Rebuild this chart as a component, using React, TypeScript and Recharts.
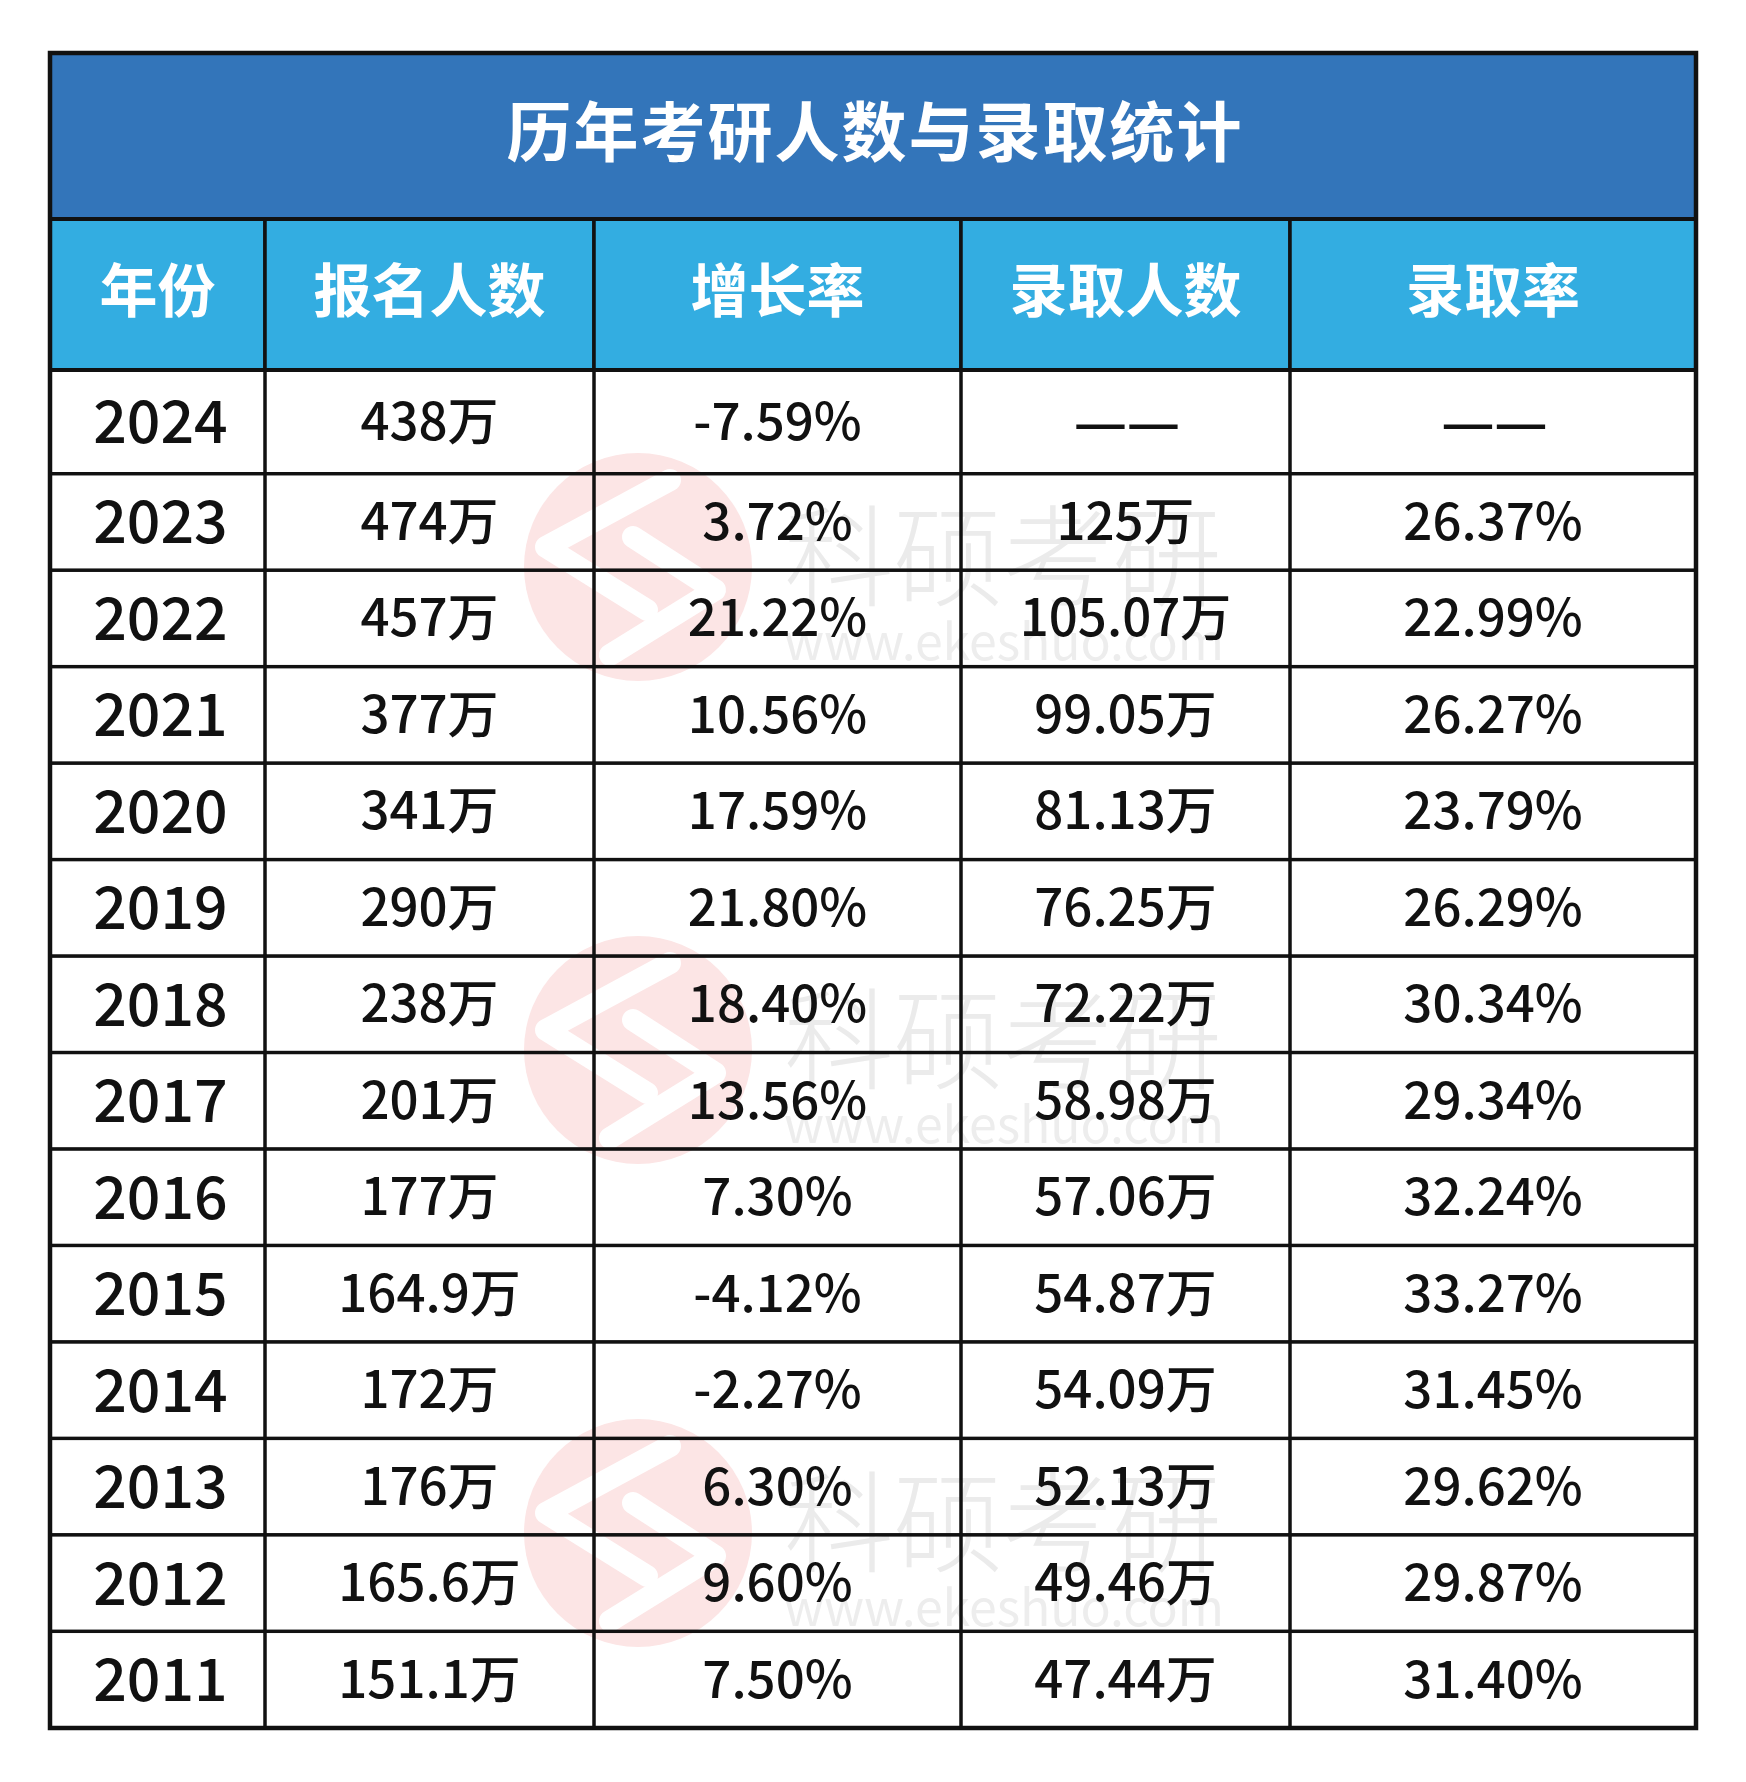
import React from 'react'
import { BarChart, Bar, XAxis, YAxis, LabelList, Customized } from 'recharts'

// table content
const title = '历年考研人数与录取统计'
const headers = ['年份', '报名人数', '增长率', '录取人数', '录取率']
const years = ['2024', '2023', '2022', '2021', '2020', '2019', '2018', '2017', '2016', '2015', '2014', '2013', '2012', '2011']
const applicants = [438, 474, 457, 377, 341, 290, 238, 201, 177, 164.9, 172, 176, 165.6, 151.1] // 万
const growth = [-7.59, 3.72, 21.22, 10.56, 17.59, 21.8, 18.4, 13.56, 7.3, -4.12, -2.27, 6.3, 9.6, 7.5] // %
const admitted = [null, 125, 105.07, 99.05, 81.13, 76.25, 72.22, 58.98, 57.06, 54.87, 54.09, 52.13, 49.46, 47.44] // 万
const admitRate = [null, 26.37, 22.99, 26.27, 23.79, 26.29, 30.34, 29.34, 32.24, 33.27, 31.45, 29.62, 29.87, 31.4] // %

// layout
const W = 1746
const H = 1782
const LEFT = 50
const TOP = 53
const TITLE_H = 166
const HEAD_H = 151
const FIRST_EXTRA = 7.5 // first body row is a little taller than the rest
const BOTTOM = 1728
const colWidths = [215, 329, 367, 329, 406]
const TOTAL = colWidths.reduce((a, b) => a + b, 0)
const FONT = '"Noto Sans CJK SC", "Noto Sans", sans-serif'
const DASH = '——'

const wan = (v: number | null) => (v == null ? DASH : `${v}万`)
const pct = (v: number | null) => (v == null ? DASH : `${v.toFixed(2)}%`)

const rows = years.map((y, i) => {
  const texts = [y, wan(applicants[i]), pct(growth[i]), wan(admitted[i]), pct(admitRate[i])]
  const row: Record<string, string | number> = { year: y }
  colWidths.forEach((w, c) => {
    row['c' + c] = w
    row['t' + c] = texts[c]
  })
  return row
})

const cellShape = (props: any) => {
  const { x, y, width, height, index } = props
  const extra = index === 0 ? FIRST_EXTRA : 0
  return <rect x={x} y={y - extra} width={width} height={height + extra} fill="transparent" stroke="#111" strokeWidth={3} />
}

const cellText = (fontSize: number, dx: number) => (props: any) => {
  const { x, y, width, height, value, index } = props
  const extra = index === 0 ? FIRST_EXTRA : 0
  const cx = Number(x) + Number(width) / 2 + dx
  const cy = Number(y) + Number(height) / 2 - extra / 2 - 4
  const common = {
    textAnchor: 'middle' as const,
    dominantBaseline: 'central' as const,
    fontFamily: FONT,
    fontWeight: 500,
    fill: '#111',
  }
  if (value === DASH) {
    // two separate dashes, as in the source
    return (
      <g>
        <text {...common} x={cx - 25} y={cy} fontSize={60}>—</text>
        <text {...common} x={cx + 28} y={cy} fontSize={60}>—</text>
      </g>
    )
  }
  return (
    <text {...common} x={cx} y={cy} fontSize={fontSize}>
      {value}
    </text>
  )
}

const Watermark = ({ dy }: { dy: number }) => {
  const cx = 638
  const cy = 567 + dy
  const pts = (p: number[][]) => p.map(([a, b]) => `${cx + a},${cy + b}`).join(' ')
  return (
    <g>
      <circle cx={cx} cy={cy} r={114} fill="#fce5e5" />
      <polyline
        points={pts([[32, -87], [-92, -20], [9, 43]])}
        fill="none" stroke="#fff" strokeWidth={22} strokeLinejoin="round" strokeLinecap="round"
      />
      <polyline
        points={pts([[-5, -30], [77, 23], [-28, 88]])}
        fill="none" stroke="#fff" strokeWidth={22} strokeLinejoin="round" strokeLinecap="round"
      />
      <text x={784} y={598 + dy} textLength={438} fontFamily={FONT} fontWeight={300} fontSize={110} fill="#ebebeb">
        科硕考研
      </text>
      <text x={784} y={660 + dy} textLength={440} fontFamily={FONT} fontSize={50} fill="#ededed">
        www.ekeshuo.com
      </text>
    </g>
  )
}

const Backdrop = () => (
  <g>
    <rect x={LEFT} y={TOP + TITLE_H + HEAD_H} width={TOTAL} height={BOTTOM - TOP - TITLE_H - HEAD_H} fill="#fff" />
    {[0, 483, 966].map(dy => <Watermark key={dy} dy={dy} />)}
  </g>
)

const Frame = () => {
  let x = LEFT
  const headY = TOP + TITLE_H
  return (
    <g>
      <rect x={LEFT} y={TOP} width={TOTAL} height={TITLE_H} fill="#3375ba" />
      <text
        x={LEFT + TOTAL / 2 + 2}
        y={TOP + TITLE_H / 2 - 8}
        textAnchor="middle"
        dominantBaseline="central"
        fontFamily={FONT}
        fontWeight={700}
        fontSize={65}
        letterSpacing={2}
        fill="#fff"
      >
        {title}
      </text>
      {headers.map((h, c) => {
        const w = colWidths[c]
        const cellX = x
        x += w
        return (
          <g key={h}>
            <rect x={cellX} y={headY} width={w} height={HEAD_H} fill="#33ade1" stroke="#111" strokeWidth={3.5} />
            <text
              x={cellX + w / 2}
              y={headY + HEAD_H / 2 - 8}
              textAnchor="middle"
              dominantBaseline="central"
              fontFamily={FONT}
              fontWeight={700}
              fontSize={58}
              fill="#fff"
            >
              {h}
            </text>
          </g>
        )
      })}
      <line x1={LEFT} x2={LEFT + TOTAL} y1={headY} y2={headY} stroke="#111" strokeWidth={4} />
      <line x1={LEFT} x2={LEFT + TOTAL} y1={headY + HEAD_H} y2={headY + HEAD_H} stroke="#111" strokeWidth={4} />
      <rect x={LEFT} y={TOP} width={TOTAL} height={BOTTOM - TOP} fill="none" stroke="#111" strokeWidth={4.5} />
    </g>
  )
}

export default function App() {
  return (
    <div style={{ position: 'absolute', left: 0, top: 0, width: W, height: H, background: '#fff' }}>
      <BarChart
        width={W}
        height={H}
        data={rows}
        layout="vertical"
        barCategoryGap={0}
        barGap={0}
        margin={{
          top: TOP + TITLE_H + HEAD_H + FIRST_EXTRA,
          left: LEFT,
          right: W - LEFT - TOTAL,
          bottom: H - BOTTOM,
        }}
      >
        <Customized component={Backdrop} />
        <XAxis type="number" domain={[0, TOTAL]} allowDataOverflow hide />
        <YAxis type="category" dataKey="year" hide width={0} />
        {colWidths.map((_, c) => (
          <Bar
            key={c}
            dataKey={'c' + c}
            stackId="row"
            fill="transparent"
            shape={cellShape}
            isAnimationActive={false}
          >
            <LabelList dataKey={'t' + c} content={cellText(c === 0 ? 59 : 51, c === 0 ? 3 : 0)} />
          </Bar>
        ))}
        <Customized component={Frame} />
      </BarChart>
    </div>
  )
}
